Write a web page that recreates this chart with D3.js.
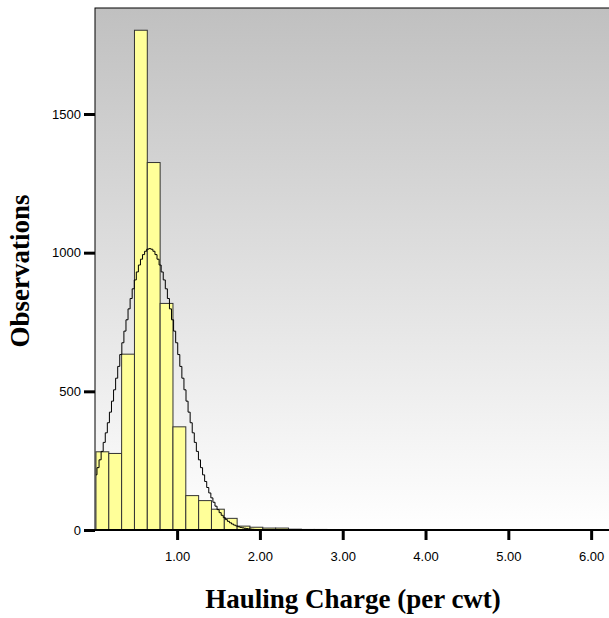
<!DOCTYPE html>
<html>
<head>
<meta charset="utf-8">
<script src="https://cdn.jsdelivr.net/npm/d3@7"></script>
<style>
  body { margin: 0; background: #fff; }
  svg { display: block; }
</style>
</head>
<body>
<svg id="chart"></svg>
<script>
// histogram bins: first bin start, bin width, and counts per bin
const binStart = 0.02;
const binWidth = 0.155;
const counts = [282, 276, 634, 1802, 1325, 817, 372, 124, 106, 75, 42, 14,
  10, 7, 7, 3, 2, 2, 1, 1, 1, 0, 1, 0, 0, 1, 0, 0, 0, 1, 0, 0, 0, 0, 1, 0, 0, 0, 0, 1];
// fitted normal curve
const normMean = 0.67;
const normSd = 0.36;
const yTicks = [0, 500, 1000, 1500];
const xTicks = [1, 2, 3, 4, 5, 6];

const W = 609, H = 618;
const plotL = 95, plotT = 8, plotB = 530, plotR = 609;

const svg = d3.select('#chart').attr('width', W).attr('height', H);

const x = d3.scaleLinear().domain([0, 6.2]).range([94.3, 607.7]);
const y = d3.scaleLinear().domain([0, 1500]).range([plotB, 114]);

// background gradient
const defs = svg.append('defs');
const grad = defs.append('linearGradient').attr('id', 'bg')
  .attr('x1', 0).attr('y1', 0).attr('x2', 0).attr('y2', 1);
grad.append('stop').attr('offset', '0%').attr('stop-color', '#c0c0c0');
grad.append('stop').attr('offset', '100%').attr('stop-color', '#ffffff');

svg.append('rect')
  .attr('x', plotL).attr('y', plotT)
  .attr('width', plotR - plotL + 2).attr('height', plotB - plotT)
  .attr('fill', 'url(#bg)')
  .attr('stroke', '#000').attr('stroke-width', 1);

const bins = counts.map((c, i) => ({
  x0: binStart + i * binWidth,
  x1: binStart + (i + 1) * binWidth,
  count: c
}));

svg.append('g').selectAll('rect')
  .data(bins.filter(d => d.count > 0)).enter().append('rect')
  .attr('x', d => x(d.x0))
  .attr('width', d => x(d.x1) - x(d.x0))
  .attr('y', d => y(d.count))
  .attr('height', d => plotB - y(d.count))
  .attr('fill', '#ffff99')
  .attr('stroke', '#333')
  .attr('stroke-width', 1);

// normal curve scaled to counts
const n = d3.sum(counts);
const xEnd = binStart + counts.length * binWidth;
const curvePts = d3.range(binStart, xEnd, 0.025).map(v => {
  const z = (v - normMean) / normSd;
  return [v, n * binWidth * Math.exp(-0.5 * z * z) / (normSd * Math.sqrt(2 * Math.PI))];
});
svg.append('path')
  .datum(curvePts)
  .attr('fill', 'none')
  .attr('stroke', '#000')
  .attr('stroke-width', 1)
  .attr('d', d3.line().x(d => x(d[0])).y(d => y(d[1])).curve(d3.curveStep));

// y axis
const yAxis = svg.append('g').attr('transform', `translate(${plotL},0)`)
  .call(d3.axisLeft(y).tickValues(yTicks).tickSize(11).tickPadding(3).tickFormat(d3.format('d')));
yAxis.select('.domain').remove();
yAxis.selectAll('.tick line').attr('stroke', '#000').attr('stroke-width', 3);
yAxis.selectAll('text').attr('font-family', 'Liberation Sans, Arial, sans-serif')
  .attr('font-size', 13).attr('fill', '#000');

// x axis
svg.append('line')
  .attr('x1', plotL).attr('x2', plotR).attr('y1', plotB).attr('y2', plotB)
  .attr('stroke', '#000').attr('stroke-width', 2);
const xAxis = svg.append('g').attr('transform', `translate(0,${plotB})`)
  .call(d3.axisBottom(x).tickValues(xTicks).tickSize(10).tickPadding(12).tickFormat(d3.format('.2f')));
xAxis.select('.domain').remove();
xAxis.selectAll('.tick line').attr('stroke', '#000').attr('stroke-width', 3);
xAxis.selectAll('text').attr('font-family', 'Liberation Sans, Arial, sans-serif')
  .attr('font-size', 13).attr('fill', '#000');

// titles
svg.append('text')
  .attr('x', 353).attr('y', 608)
  .attr('text-anchor', 'middle')
  .attr('font-family', 'Liberation Serif, Times New Roman, serif')
  .attr('font-weight', 'bold').attr('font-size', 27)
  .text('Hauling Charge (per cwt)');

svg.append('text')
  .attr('transform', 'translate(29,271) rotate(-90)')
  .attr('text-anchor', 'middle')
  .attr('font-family', 'Liberation Serif, Times New Roman, serif')
  .attr('font-weight', 'bold').attr('font-size', 27)
  .text('Observations');
</script>
</body>
</html>
